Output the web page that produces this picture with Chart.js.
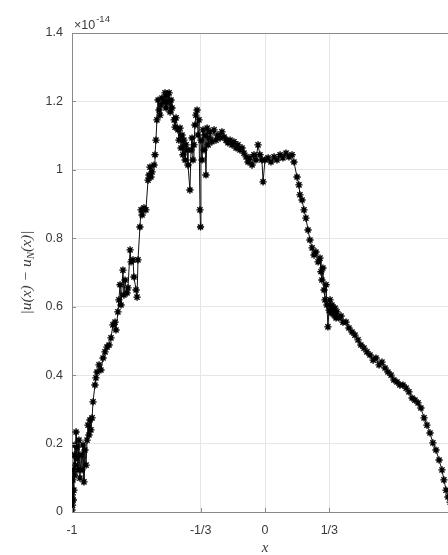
<!DOCTYPE html>
<html>
<head>
<meta charset="utf-8">
<script src="https://cdn.jsdelivr.net/npm/chart.js@4.4.0/dist/chart.umd.min.js"></script>
<style>
html,body{margin:0;padding:0;background:#fff;overflow:hidden;width:448px;height:555px;}
canvas{display:block;}
</style>
</head>
<body>
<canvas id="c" width="475" height="555"></canvas>
<script>
// x positions
const xs = [-1.000,-0.998,-0.997,-0.995,-0.993,-0.992,-0.990,-0.988,-0.987,-0.984,-0.982,-0.979,-0.977,-0.974,-0.969,-0.964,-0.959,-0.953,-0.948,-0.943,
-0.938,-0.933,-0.927,-0.922,-0.917,-0.912,-0.907,-0.902,-0.896,-0.891,-0.881,-0.876,-0.870,-0.860,-0.850,-0.839,-0.829,-0.819,-0.808,-0.798,
-0.788,-0.777,-0.772,-0.762,-0.757,-0.751,-0.746,-0.736,-0.731,-0.725,-0.715,-0.710,-0.699,-0.694,-0.684,-0.679,-0.668,-0.663,-0.658,-0.648,
-0.642,-0.637,-0.627,-0.617,-0.606,-0.601,-0.596,-0.591,-0.585,-0.575,-0.570,-0.565,-0.560,-0.554,-0.549,-0.544,-0.539,-0.534,-0.523,-0.518,
-0.513,-0.508,-0.503,-0.497,-0.492,-0.487,-0.482,-0.471,-0.466,-0.461,-0.451,-0.446,-0.440,-0.435,-0.430,-0.425,-0.420,-0.414,-0.409,-0.404,
-0.399,-0.389,-0.383,-0.378,-0.373,-0.368,-0.363,-0.358,-0.352,-0.347,-0.342,-0.337,-0.334,-0.332,-0.326,-0.321,-0.316,-0.311,-0.306,-0.300,
-0.295,-0.290,-0.285,-0.275,-0.264,-0.254,-0.244,-0.233,-0.223,-0.212,-0.202,-0.192,-0.181,-0.171,-0.161,-0.150,-0.140,-0.130,-0.119,-0.109,
-0.098,-0.088,-0.078,-0.067,-0.057,-0.047,-0.036,-0.026,-0.016,-0.010,0.000,0.016,0.031,0.047,0.062,0.078,0.093,0.109,0.124,0.140,
0.150,0.166,0.176,0.181,0.192,0.202,0.212,0.223,0.233,0.244,0.254,0.264,0.275,0.285,0.290,0.295,0.300,0.306,0.311,0.316,
0.321,0.326,0.332,0.337,0.342,0.347,0.352,0.358,0.363,0.368,0.373,0.383,0.394,0.404,0.420,0.435,0.451,0.466,0.482,0.497,
0.513,0.528,0.544,0.560,0.575,0.591,0.606,0.622,0.637,0.653,0.668,0.684,0.699,0.715,0.731,0.746,0.762,0.777,0.793,0.808,
0.824,0.839,0.855,0.870,0.886,0.902,0.917,0.927,0.938,0.948,0.959,0.969,0.979,0.990,1.000];
// error values, in units of 1e-14
const errs = [0.006,0.050,0.020,0.094,0.035,0.123,0.064,0.167,0.108,0.196,0.137,0.234,0.158,0.190,0.123,0.210,0.099,0.167,0.123,0.196,
0.088,0.181,0.137,0.210,0.254,0.225,0.269,0.240,0.275,0.322,0.371,0.392,0.409,0.430,0.415,0.450,0.468,0.482,0.488,0.509,
0.547,0.555,0.532,0.585,0.620,0.664,0.605,0.707,0.634,0.678,0.640,0.655,0.766,0.731,0.737,0.687,0.649,0.628,0.737,0.833,
0.883,0.868,0.889,0.883,0.970,0.985,1.008,0.979,0.994,1.014,1.044,1.087,1.146,1.204,1.175,1.160,1.190,1.210,1.198,1.225,
1.181,1.219,1.196,1.225,1.169,1.204,1.181,1.146,1.125,1.152,1.117,1.087,1.122,1.064,1.102,1.044,1.087,1.029,1.073,1.058,
1.014,0.941,1.058,1.093,1.029,1.073,1.131,1.160,1.175,1.102,1.146,0.883,0.833,1.087,1.029,1.117,1.058,1.102,0.985,1.122,
1.073,1.093,1.111,1.082,1.117,1.087,1.102,1.093,1.111,1.096,1.087,1.079,1.087,1.073,1.082,1.064,1.073,1.058,1.064,1.049,
1.038,1.023,1.035,1.014,1.044,1.029,1.073,1.044,1.029,0.965,1.029,1.035,1.023,1.038,1.029,1.044,1.035,1.049,1.038,1.044,
1.023,0.979,0.956,0.927,0.912,0.883,0.859,0.824,0.795,0.772,0.751,0.760,0.731,0.742,0.702,0.678,0.713,0.649,0.620,0.664,
0.605,0.541,0.590,0.620,0.582,0.605,0.590,0.576,0.596,0.567,0.585,0.567,0.573,0.555,0.555,0.538,0.526,0.517,0.503,0.488,
0.479,0.468,0.459,0.444,0.450,0.430,0.438,0.421,0.409,0.400,0.386,0.380,0.371,0.371,0.362,0.351,0.333,0.327,0.319,0.304,
0.275,0.254,0.231,0.202,0.181,0.152,0.123,0.094,0.064,0.044,0.029,0.020,0.015,0.009,0.003];
const xTickValues = [-1, -1/3, 0, 1/3, 1];
const xTickLabels = ['-1', '-1/3', '0', '1/3', '1'];
const yTickValues = [0, 0.2, 0.4, 0.6, 0.8, 1, 1.2, 1.4];
const yTickLabels = ['0', '0.2', '0.4', '0.6', '0.8', '1', '1.2', '1.4'];
const exponentLabel = ['\u00d710', '-14'];

const points = xs.map((x, i) => ({x: x, y: errs[i]}));
const tickFont = {family: "'Liberation Sans', Arial, sans-serif", size: 12.5};
const tickColor = '#3a3a3a';

const decor = {
  id: 'decor',
  afterDraw(chart) {
    const ctx = chart.ctx, a = chart.chartArea;
    const xs_ = chart.scales.x, ys_ = chart.scales.y;
    ctx.save();
    // top box line
    ctx.strokeStyle = '#8a8a8a'; ctx.lineWidth = 1;
    ctx.beginPath(); ctx.moveTo(a.left, a.top + 0.5); ctx.lineTo(a.right, a.top + 0.5); ctx.stroke();
    // inward ticks
    ctx.beginPath();
    yTickValues.forEach(v => { const py = Math.round(ys_.getPixelForValue(v)) + 0.5; ctx.moveTo(a.left, py); ctx.lineTo(a.left + 4, py); });
    xTickValues.forEach(v => { const px = Math.round(xs_.getPixelForValue(v)) + 0.5; ctx.moveTo(px, a.bottom); ctx.lineTo(px, a.bottom - 4); });
    ctx.stroke();
    // exponent
    ctx.fillStyle = tickColor;
    ctx.font = "12.5px 'Liberation Sans', Arial, sans-serif";
    ctx.textBaseline = 'alphabetic'; ctx.textAlign = 'left';
    ctx.fillText(exponentLabel[0], a.left + 2, a.top - 4);
    const w = ctx.measureText(exponentLabel[0]).width;
    ctx.font = "9.5px 'Liberation Sans', Arial, sans-serif";
    ctx.fillText(exponentLabel[1], a.left + 2 + w + 1, a.top - 11);
    // x label
    ctx.font = "italic 15px 'Liberation Serif', 'Times New Roman', serif";
    ctx.textAlign = 'center';
    ctx.fillText('x', (xs_.getPixelForValue(0)), 552);
    // y label (rotated, with subscript N)
    const cy = (a.top + a.bottom) / 2;
    ctx.translate(31, cy);
    ctx.rotate(-Math.PI / 2);
    const parts = [
      ['|u(x) \u2212 u', "italic 15.5px 'Liberation Serif', serif", 0],
      ['N', "italic 11px 'Liberation Serif', serif", 3],
      ['(x)|', "italic 15.5px 'Liberation Serif', serif", 0]
    ];
    let total = 0;
    parts.forEach(p => { ctx.font = p[1]; total += ctx.measureText(p[0]).width; });
    let xx = -total / 2;
    ctx.textAlign = 'left';
    parts.forEach(p => { ctx.font = p[1]; ctx.fillText(p[0], xx, p[2]); xx += ctx.measureText(p[0]).width; });
    ctx.restore();
  }
};

new Chart(document.getElementById('c'), {
  type: 'line',
  data: {
    datasets: [{
      data: points,
      borderColor: '#111',
      borderWidth: 1,
      pointStyle: 'star',
      pointRadius: 3.6,
      pointBorderColor: '#000',
      pointBackgroundColor: '#000',
      pointBorderWidth: 1.4,
      tension: 0,
      fill: false
    }]
  },
  options: {
    responsive: false,
    animation: false,
    devicePixelRatio: 1,
    layout: {padding: {top: 33, right: 17, left: 0, bottom: 0}},
    plugins: {legend: {display: false}, tooltip: {enabled: false}},
    scales: {
      x: {
        type: 'linear', min: -1, max: 1,
        afterBuildTicks: s => { s.ticks = xTickValues.map(v => ({value: v})); },
        afterFit: s => { s.height = 43; },
        ticks: {
          autoSkip: false, maxRotation: 0, padding: 11,
          font: tickFont, color: tickColor,
          callback: (v) => { const i = xTickValues.findIndex(t => Math.abs(t - v) < 1e-9); return i >= 0 ? xTickLabels[i] : ''; }
        },
        grid: {color: '#e6e6e6', drawTicks: false, lineWidth: 1},
        border: {color: '#8a8a8a', width: 1}
      },
      y: {
        type: 'linear', min: 0, max: 1.4,
        afterBuildTicks: s => { s.ticks = yTickValues.map(v => ({value: v})); },
        afterFit: s => { s.width = 72; },
        ticks: {
          autoSkip: false, padding: 9,
          font: tickFont, color: tickColor,
          callback: (v) => { const i = yTickValues.findIndex(t => Math.abs(t - v) < 1e-9); return i >= 0 ? yTickLabels[i] : ''; }
        },
        grid: {color: '#e6e6e6', drawTicks: false, lineWidth: 1},
        border: {color: '#8a8a8a', width: 1}
      }
    }
  },
  plugins: [decor]
});
</script>
</body>
</html>
